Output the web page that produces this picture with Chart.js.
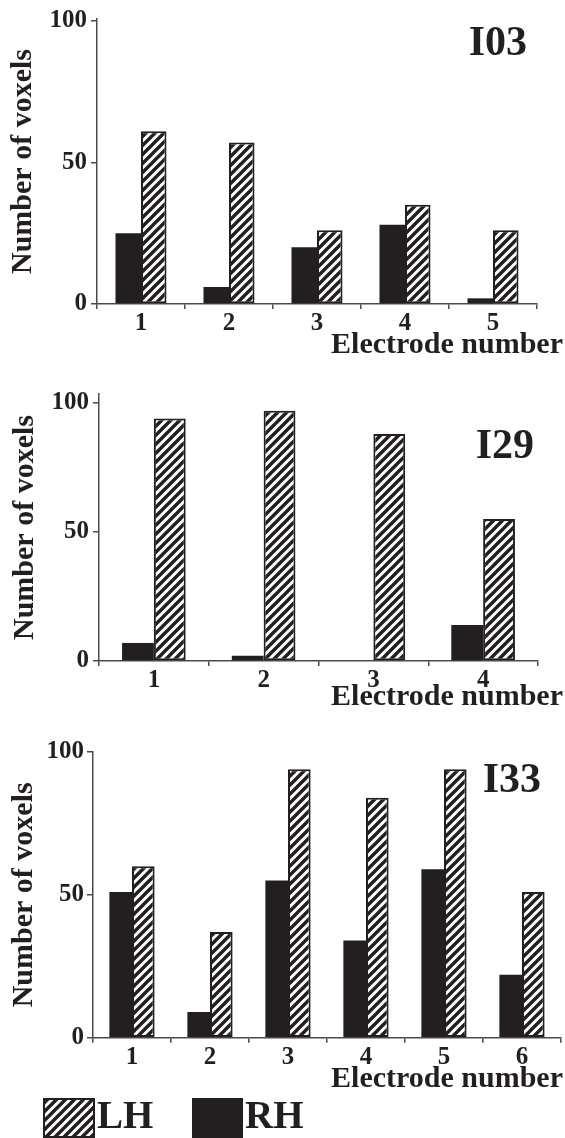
<!DOCTYPE html>
<html>
<head>
<meta charset="utf-8">
<script src="https://cdn.jsdelivr.net/npm/chart.js@4.4.0/dist/chart.umd.min.js"></script>
<style>
  body { margin: 0; background: #fff; width: 565px; height: 1138px; position: relative; overflow: hidden; }
  canvas { position: absolute; left: 0; }
</style>
</head>
<body>
<canvas id="c1" width="565" height="375" style="top:0px"></canvas>
<canvas id="c2" width="565" height="340" style="top:375px"></canvas>
<canvas id="c3" width="565" height="423" style="top:715px"></canvas>
<script>
// dados
var electrodes03 = ['1', '2', '3', '4', '5'];
var rh03 = [25, 6, 20, 28, 2];
var lh03 = [61, 57, 26, 35, 26];

var electrodes29 = ['1', '2', '3', '4'];
var rh29 = [7, 2, 0, 14];
var lh29 = [94, 97, 88, 55];

var electrodes33 = ['1', '2', '3', '4', '5', '6'];
var rh33 = [51, 9, 55, 34, 59, 22];
var lh33 = [60, 37, 94, 84, 94, 51];

var yTicks = [0, 50, 100];

var ink = '#231f20';
var axisColor = '#4a4a4a';
var serif = '"Liberation Serif", "Times New Roman", serif';

function hatch() {
    var n = 9;
    var c = document.createElement('canvas');
    c.width = n; c.height = n;
    var g = c.getContext('2d');
    g.fillStyle = '#fff';
    g.fillRect(0, 0, n, n);
    g.strokeStyle = ink;
    g.lineWidth = 3.4;
    g.beginPath();
    g.moveTo(-2, n + 2); g.lineTo(n + 2, -2);
    g.moveTo(-n, n); g.lineTo(n, -n);
    g.moveTo(0, 2 * n); g.lineTo(2 * n, 0);
    g.stroke();
    return g.createPattern(c, 'repeat');
}

//textos do painel e legenda
var panelText = {
    id: 'panelText',
    afterDraw: function (chart, args, o) {
        var ctx = chart.ctx;
        ctx.save();
        ctx.fillStyle = ink;
        ctx.textBaseline = 'alphabetic';
        ctx.textAlign = 'right';
        ctx.font = 'bold 42px ' + serif;
        ctx.fillText(o.name, o.nameX, o.nameY);
        ctx.font = 'bold 30px ' + serif;
        ctx.fillText('Electrode number', 563, o.axisY);

        if (o.legend) {
            var ds = chart.data.datasets;
            var items = [
                {d: ds[1], x: 43, w: 52},
                {d: ds[0], x: 192, w: 51}
            ];
            ctx.textAlign = 'left';
            ctx.font = 'bold 39px ' + serif;
            items.forEach(function (it) {
                ctx.fillStyle = it.d.backgroundColor;
                ctx.fillRect(it.x, o.legendY, it.w, 40);
                if (it.d.borderWidth) {
                    ctx.strokeStyle = ink;
                    ctx.lineWidth = 2;
                    ctx.strokeRect(it.x + 1, o.legendY + 1, it.w - 2, 38);
                }
                ctx.fillStyle = ink;
                ctx.fillText(it.d.label, it.x + it.w + 2, o.legendY + 30);
            });
        }
        ctx.restore();
    }
};

function makeChart(id, labels, rh, lh, p) {
    var tickFont = {family: serif, weight: 'bold', size: 25};
    return new Chart(document.getElementById(id), {
        type: 'bar',
        data: {
            labels: labels,
            datasets: [
                {label: 'RH', data: rh, backgroundColor: ink, borderWidth: 0},
                {label: 'LH', data: lh, backgroundColor: hatch(), borderColor: ink, borderWidth: 2, borderSkipped: false}
            ]
        },
        options: {
            responsive: false,
            animation: false,
            devicePixelRatio: 1,
            datasets: {bar: {categoryPercentage: 0.58, barPercentage: 1}},
            layout: {padding: {left: 0, right: p.right, top: p.top, bottom: 0}},
            plugins: {
                legend: {display: false},
                tooltip: {enabled: false},
                panelText: p.text
            },
            scales: {
                x: {
                    grid: {offset: true, drawOnChartArea: false, tickLength: 5, color: axisColor, lineWidth: 1.5},
                    border: {color: axisColor, width: 1.5},
                    ticks: {font: tickFont, color: ink, padding: 0, maxRotation: 0},
                    afterFit: function (s) { s.height = p.xh; }
                },
                y: {
                    min: 0,
                    max: p.max,
                    afterBuildTicks: function (s) {
                        s.ticks = yTicks.map(function (v) { return {value: v}; });
                    },
                    grid: {drawOnChartArea: false, tickLength: 6, color: axisColor, lineWidth: 1.5},
                    border: {color: axisColor, width: 1.5},
                    ticks: {font: tickFont, color: ink, padding: p.tickPad},
                    title: {
                        display: true,
                        text: 'Number of voxels',
                        color: ink,
                        font: {family: serif, weight: 'bold', size: 30, lineHeight: 1.2},
                        padding: {top: p.titlePad, bottom: 0}
                    },
                    afterFit: function (s) { s.width = p.left; }
                }
            }
        },
        plugins: [panelText]
    });
}

makeChart('c1', electrodes03, rh03, lh03, {
    left: 97, right: 28, top: 15, xh: 71, max: 100.6, tickPad: 4, titlePad: 5,
    text: {name: 'I03', nameX: 527, nameY: 55, axisY: 353}
});
makeChart('c2', electrodes29, rh29, lh29, {
    left: 99, right: 27, top: 17.6, xh: 54, max: 103.5, tickPad: 4, titlePad: 7,
    text: {name: 'I29', nameX: 534, nameY: 83, axisY: 330}
});
makeChart('c3', electrodes33, rh33, lh33, {
    left: 93, right: 4, top: 37, xh: 100.3, max: 100, tickPad: 3, titlePad: 6,
    text: {name: 'I33', nameX: 541, nameY: 77, axisY: 372, legend: true, legendY: 383}
});
</script>
</body>
</html>
